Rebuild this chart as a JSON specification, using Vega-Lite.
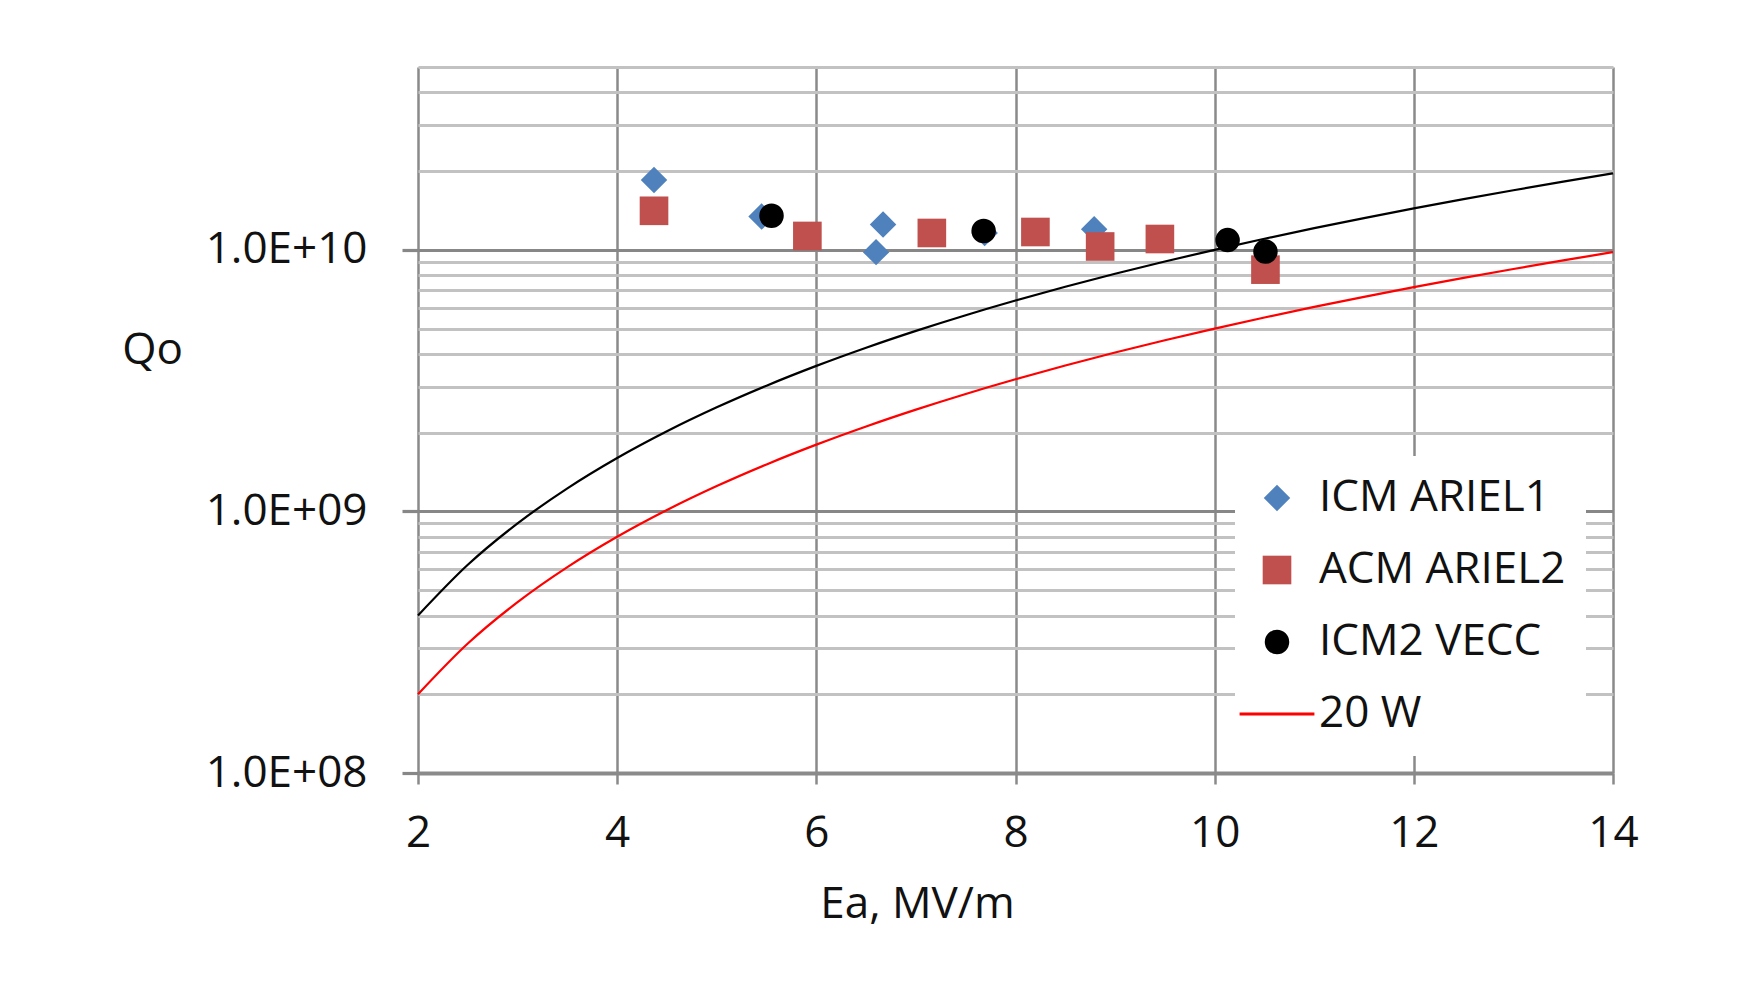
{
  "$schema": "https://vega.github.io/schema/vega-lite/v6.json",
  "width": 1195,
  "height": 706,
  "autosize": "none",
  "padding": {"left": 418, "top": 67, "right": 129, "bottom": 229},
  "background": "white",
  "config": {"view": {"stroke": null}, "font": "Open Sans"},
  "datasets": {
    "points": [
      {"E": 4.37, "Q": 1.85e10, "series": "ICM ARIEL1"},
      {"E": 5.45, "Q": 1.34e10, "series": "ICM ARIEL1"},
      {"E": 6.67, "Q": 1.25e10, "series": "ICM ARIEL1"},
      {"E": 6.60, "Q": 9.8e9, "series": "ICM ARIEL1"},
      {"E": 7.69, "Q": 1.16e10, "series": "ICM ARIEL1"},
      {"E": 8.79, "Q": 1.20e10, "series": "ICM ARIEL1"},
      {"E": 4.37, "Q": 1.41e10, "series": "ACM ARIEL2"},
      {"E": 5.91, "Q": 1.13e10, "series": "ACM ARIEL2"},
      {"E": 7.16, "Q": 1.16e10, "series": "ACM ARIEL2"},
      {"E": 8.20, "Q": 1.17e10, "series": "ACM ARIEL2"},
      {"E": 8.85, "Q": 1.03e10, "series": "ACM ARIEL2"},
      {"E": 9.45, "Q": 1.10e10, "series": "ACM ARIEL2"},
      {"E": 10.51, "Q": 8.4e9, "series": "ACM ARIEL2"},
      {"E": 5.55, "Q": 1.35e10, "series": "ICM2 VECC"},
      {"E": 7.68, "Q": 1.18e10, "series": "ICM2 VECC"},
      {"E": 10.13, "Q": 1.09e10, "series": "ICM2 VECC"},
      {"E": 10.51, "Q": 9.85e9, "series": "ICM2 VECC"}
    ],
    "line10": [
      {"E": 2, "Q": 4.0e8}, {"E": 2.5, "Q": 6.25e8}, {"E": 3, "Q": 9.0e8}, {"E": 3.5, "Q": 1.225e9},
      {"E": 4, "Q": 1.6e9}, {"E": 4.5, "Q": 2.025e9}, {"E": 5, "Q": 2.5e9}, {"E": 5.5, "Q": 3.025e9},
      {"E": 6, "Q": 3.6e9}, {"E": 6.5, "Q": 4.225e9}, {"E": 7, "Q": 4.9e9}, {"E": 7.5, "Q": 5.625e9},
      {"E": 8, "Q": 6.4e9}, {"E": 8.5, "Q": 7.225e9}, {"E": 9, "Q": 8.1e9}, {"E": 9.5, "Q": 9.025e9},
      {"E": 10, "Q": 1.0e10}, {"E": 10.5, "Q": 1.1025e10}, {"E": 11, "Q": 1.21e10}, {"E": 11.5, "Q": 1.3225e10},
      {"E": 12, "Q": 1.44e10}, {"E": 12.5, "Q": 1.5625e10}, {"E": 13, "Q": 1.69e10}, {"E": 13.5, "Q": 1.8225e10},
      {"E": 14, "Q": 1.96e10}
    ],
    "line20": [
      {"E": 2, "Q": 2.0e8}, {"E": 2.5, "Q": 3.125e8}, {"E": 3, "Q": 4.5e8}, {"E": 3.5, "Q": 6.125e8},
      {"E": 4, "Q": 8.0e8}, {"E": 4.5, "Q": 1.0125e9}, {"E": 5, "Q": 1.25e9}, {"E": 5.5, "Q": 1.5125e9},
      {"E": 6, "Q": 1.8e9}, {"E": 6.5, "Q": 2.1125e9}, {"E": 7, "Q": 2.45e9}, {"E": 7.5, "Q": 2.8125e9},
      {"E": 8, "Q": 3.2e9}, {"E": 8.5, "Q": 3.6125e9}, {"E": 9, "Q": 4.05e9}, {"E": 9.5, "Q": 4.5125e9},
      {"E": 10, "Q": 5.0e9}, {"E": 10.5, "Q": 5.5125e9}, {"E": 11, "Q": 6.05e9}, {"E": 11.5, "Q": 6.6125e9},
      {"E": 12, "Q": 7.2e9}, {"E": 12.5, "Q": 7.8125e9}, {"E": 13, "Q": 8.45e9}, {"E": 13.5, "Q": 9.1125e9},
      {"E": 14, "Q": 9.8e9}
    ]
  },
  "layer": [
    {
      "data": {"name": "line10"},
      "mark": {"type": "line", "interpolate": "monotone", "color": "#000000", "strokeWidth": 2.2},
      "encoding": {
        "x": {
          "field": "E", "type": "quantitative",
          "scale": {"domain": [2, 14], "nice": false, "zero": false},
          "axis": {
            "values": [2, 4, 6, 8, 10, 12, 14], "format": "d", "labelFlush": false,
            "grid": true, "gridColor": "#8a8a8a", "gridWidth": 2.5,
            "tickSize": 11, "tickColor": "#8a8a8a", "tickWidth": 2.5,
            "domainColor": "#8a8a8a", "domainWidth": 4,
            "labelFont": "Open Sans", "labelFontSize": 44, "labelColor": "#111111", "labelPadding": 27,
            "title": "Ea, MV/m", "titleFont": "Open Sans", "titleFontSize": 44, "titleFontWeight": "normal",
            "titleColor": "#111111", "titleX": 499, "titleY": 144, "titleAlign": "center", "titleBaseline": "alphabetic"
          }
        },
        "y": {
          "field": "Q", "type": "quantitative",
          "scale": {"type": "log", "domain": [1e8, 5e10], "nice": false},
          "axis": {
            "values": [1e8, 2e8, 3e8, 4e8, 5e8, 6e8, 7e8, 8e8, 9e8, 1e9, 2e9, 3e9, 4e9, 5e9, 6e9, 7e9, 8e9, 9e9, 1e10, 2e10, 3e10, 4e10, 5e10],
            "labelExpr": "abs(log(datum.value)/LN10 - round(log(datum.value)/LN10)) < 0.001 ? ('1.0E+' + (round(log(datum.value)/LN10) < 10 ? '0' : '') + round(log(datum.value)/LN10)) : ''",
            "grid": true,
            "gridColor": {"condition": {"test": "abs(log(datum.value)/LN10 - round(log(datum.value)/LN10)) < 0.001", "value": "#878787"}, "value": "#c2c2c2"},
            "gridWidth": {"condition": {"test": "abs(log(datum.value)/LN10 - round(log(datum.value)/LN10)) < 0.001", "value": 3.2}, "value": 2.8},
            "tickColor": {"condition": {"test": "abs(log(datum.value)/LN10 - round(log(datum.value)/LN10)) < 0.001", "value": "#878787"}, "value": "transparent"},
            "tickSize": 16, "tickWidth": 3.2,
            "domain": false,
            "labelFont": "Open Sans", "labelFontSize": 44, "labelColor": "#111111", "labelPadding": 35,
            "title": "Qo", "titleFont": "Open Sans", "titleFontSize": 44, "titleFontWeight": "normal",
            "titleColor": "#111111", "titleAngle": 0, "titleX": -266, "titleY": 296, "titleAlign": "center", "titleBaseline": "alphabetic"
          }
        }
      }
    },
    {
      "data": {"name": "line20"},
      "mark": {"type": "line", "interpolate": "monotone", "color": "#ff0000", "strokeWidth": 2.2},
      "encoding": {
        "x": {"field": "E", "type": "quantitative"},
        "y": {"field": "Q", "type": "quantitative"}
      }
    },
    {
      "data": {"name": "points"},
      "mark": {"type": "point", "filled": true, "opacity": 1},
      "encoding": {
        "x": {"field": "E", "type": "quantitative"},
        "y": {"field": "Q", "type": "quantitative"},
        "color": {
          "field": "series", "type": "nominal",
          "scale": {"domain": ["ICM ARIEL1", "ACM ARIEL2", "ICM2 VECC", "20 W"], "range": ["#4f81bd", "#c0504d", "#000000", "#ff0000"]},
          "legend": {
            "title": null, "orient": "none", "legendX": 817, "legendY": 389,
            "fillColor": "white", "padding": 20,
            "labelFont": "Open Sans", "labelFontSize": 44, "labelColor": "#111111", "labelOffset": 20, "labelLimit": 500,
            "rowPadding": 28, "symbolOpacity": 1,
            "encode": {
              "symbols": {
                "update": {
                  "stroke": {"scale": "color", "field": "value"},
                  "strokeWidth": {"signal": "datum.value === '20 W' ? 3 : 0"}
                }
              }
            }
          }
        },
        "shape": {
          "field": "series", "type": "nominal",
          "scale": {"domain": ["ICM ARIEL1", "ACM ARIEL2", "ICM2 VECC", "20 W"], "range": ["diamond", "square", "circle", "stroke"]}
        },
        "size": {
          "field": "series", "type": "ordinal",
          "scale": {"type": "ordinal", "domain": ["ICM ARIEL1", "ACM ARIEL2", "ICM2 VECC", "20 W"], "range": [700, 820, 600, 5600]}
        }
      }
    }
  ]
}
